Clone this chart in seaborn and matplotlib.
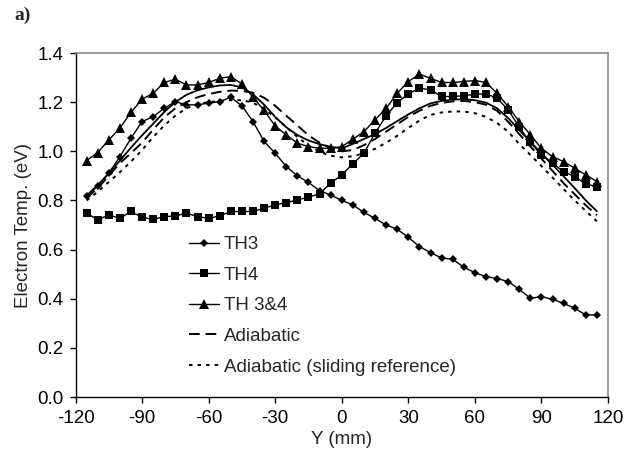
import numpy as np
import pandas as pd
import matplotlib
matplotlib.use("Agg")
import matplotlib.pyplot as plt
import seaborn as sns

sns.set_style("ticks")
plt.rcParams['font.family'] = ['Liberation Sans', 'DejaVu Sans']
plt.rcParams['font.size'] = 13.5

# ---- data -------------------------------------------------------------
y_mm = list(range(-115, 120, 5))

th3 = [0.818, 0.859, 0.911, 0.978, 1.053, 1.121, 1.141, 1.175, 1.202, 1.189,
       1.189, 1.196, 1.202, 1.220, 1.185, 1.121, 1.040, 0.992, 0.938, 0.900,
       0.873, 0.840, 0.822, 0.800, 0.782, 0.751, 0.727, 0.700, 0.683, 0.650,
       0.612, 0.588, 0.565, 0.561, 0.528, 0.506, 0.490, 0.482, 0.470, 0.438,
       0.402, 0.408, 0.398, 0.381, 0.361, 0.334, 0.334]

th4 = [0.748, 0.721, 0.741, 0.727, 0.755, 0.731, 0.723, 0.734, 0.737, 0.748,
       0.734, 0.727, 0.737, 0.755, 0.755, 0.755, 0.768, 0.782, 0.791, 0.802,
       0.813, 0.827, 0.870, 0.904, 0.949, 0.992, 1.074, 1.144, 1.198, 1.234,
       1.257, 1.250, 1.223, 1.223, 1.226, 1.232, 1.234, 1.216, 1.169, 1.098,
       1.036, 0.985, 0.951, 0.917, 0.897, 0.867, 0.856]

th34 = [0.962, 0.995, 1.046, 1.094, 1.158, 1.212, 1.236, 1.280, 1.293, 1.270,
        1.270, 1.280, 1.297, 1.304, 1.274, 1.220, 1.166, 1.103, 1.067, 1.033,
        1.019, 1.012, 1.012, 1.019, 1.049, 1.080, 1.128, 1.175, 1.236, 1.284,
        1.314, 1.297, 1.280, 1.280, 1.284, 1.288, 1.280, 1.236, 1.182, 1.121,
        1.067, 1.012, 0.978, 0.958, 0.931, 0.904, 0.877]

model = [0.820, 0.862, 0.910, 0.962, 1.015, 1.065, 1.112, 1.160, 1.200, 1.230,
         1.248, 1.260, 1.268, 1.270, 1.260, 1.232, 1.190, 1.140, 1.098, 1.066,
         1.044, 1.029, 1.018, 1.012, 1.030, 1.050, 1.070, 1.095, 1.123, 1.150,
         1.175, 1.195, 1.205, 1.210, 1.212, 1.208, 1.198, 1.175, 1.135, 1.086,
         1.039, 0.992, 0.945, 0.898, 0.850, 0.800, 0.756]

adiabatic = [0.810, 0.850, 0.900, 0.952, 0.992, 1.035, 1.088, 1.138, 1.175, 1.200,
             1.220, 1.233, 1.242, 1.247, 1.246, 1.238, 1.218, 1.185, 1.145, 1.105,
             1.065, 1.035, 1.012, 1.000, 1.005, 1.025, 1.050, 1.080, 1.110, 1.140,
             1.165, 1.185, 1.197, 1.203, 1.205, 1.200, 1.190, 1.165, 1.120, 1.070,
             1.020, 0.970, 0.920, 0.870, 0.825, 0.780, 0.740]

sliding = [0.800, 0.835, 0.875, 0.915, 0.958, 1.005, 1.058, 1.105, 1.145, 1.175,
           1.192, 1.200, 1.205, 1.208, 1.208, 1.198, 1.172, 1.138, 1.098, 1.058,
           1.024, 0.998, 0.982, 0.975, 0.980, 0.992, 1.010, 1.035, 1.063, 1.095,
           1.125, 1.148, 1.158, 1.162, 1.162, 1.155, 1.140, 1.115, 1.080, 1.030,
           0.985, 0.940, 0.893, 0.846, 0.800, 0.757, 0.715]

x_ticks = [-120, -90, -60, -30, 0, 30, 60, 90, 120]
y_ticks = [0.0, 0.2, 0.4, 0.6, 0.8, 1.0, 1.2, 1.4]

# ---- figure -----------------------------------------------------------
fig = plt.figure(figsize=(6.4, 4.57), dpi=100)
ax = fig.add_axes([75.5 / 640, 1 - 397 / 457, (608 - 75.5) / 640, (397 - 53) / 457])

lw = 1.0
sns.lineplot(x=y_mm, y=th3, ax=ax, color='black', lw=lw, marker='D',
             markersize=4.3, markeredgewidth=0, label='TH3', sort=False)
sns.lineplot(x=y_mm, y=th4, ax=ax, color='black', lw=lw, marker='s',
             markersize=5.3, markeredgewidth=0, label='TH4', sort=False)
sns.lineplot(x=y_mm, y=th34, ax=ax, color='black', lw=lw, marker='^',
             markersize=6.5, markeredgewidth=0, label='TH 3&4', sort=False)
sns.lineplot(x=y_mm, y=adiabatic, ax=ax, color='black', lw=1.4,
             label='Adiabatic', sort=False)
sns.lineplot(x=y_mm, y=sliding, ax=ax, color='black', lw=1.4,
             label='Adiabatic (sliding reference)', sort=False)
sns.lineplot(x=y_mm, y=model, ax=ax, color='black', lw=1.3,
             label='_nolegend_', sort=False)

lines = ax.get_lines()
lines[3].set_dashes([5.5, 3.0])
lines[4].set_dashes([1.8, 2.6])

ax.set_xlim(-120, 120)
ax.set_ylim(0, 1.4)
ax.set_xticks(x_ticks)
ax.set_yticks(y_ticks)
ax.set_yticklabels([f"{v:.1f}" for v in y_ticks])
ax.set_xticklabels([str(v) for v in x_ticks])
ax.tick_params(direction='out', length=4.5, width=1.0, colors='black',
               labelsize=13.5, pad=4)
ax.tick_params(axis='x', pad=5)

for s in ['left', 'bottom']:
    ax.spines[s].set_color('black')
    ax.spines[s].set_linewidth(1.0)
for s in ['top', 'right']:
    ax.spines[s].set_visible(True)
    ax.spines[s].set_color('#8c8c8c')
    ax.spines[s].set_linewidth(1.2)

ax.set_xlabel('Y (mm)', fontsize=13.5, labelpad=3)
ax.set_ylabel('Electron Temp. (eV)', fontsize=13.5, labelpad=4)

handles, labels = ax.get_legend_handles_labels()
leg = ax.legend(handles, labels, loc='upper left',
                bbox_to_anchor=((189 - 75.5) / 532.5, (397 - 236) / 344),
                frameon=False, fontsize=13.5, handlelength=1.6,
                handletextpad=0.25, labelspacing=0.72, borderpad=0,
                borderaxespad=0)

fig.text(14 / 640, 1 - 15 / 457, 'a)', family=['Liberation Serif', 'DejaVu Serif'],
         fontweight='bold', fontsize=14, va='center', ha='left')

fig.savefig('out.png', dpi=100)
